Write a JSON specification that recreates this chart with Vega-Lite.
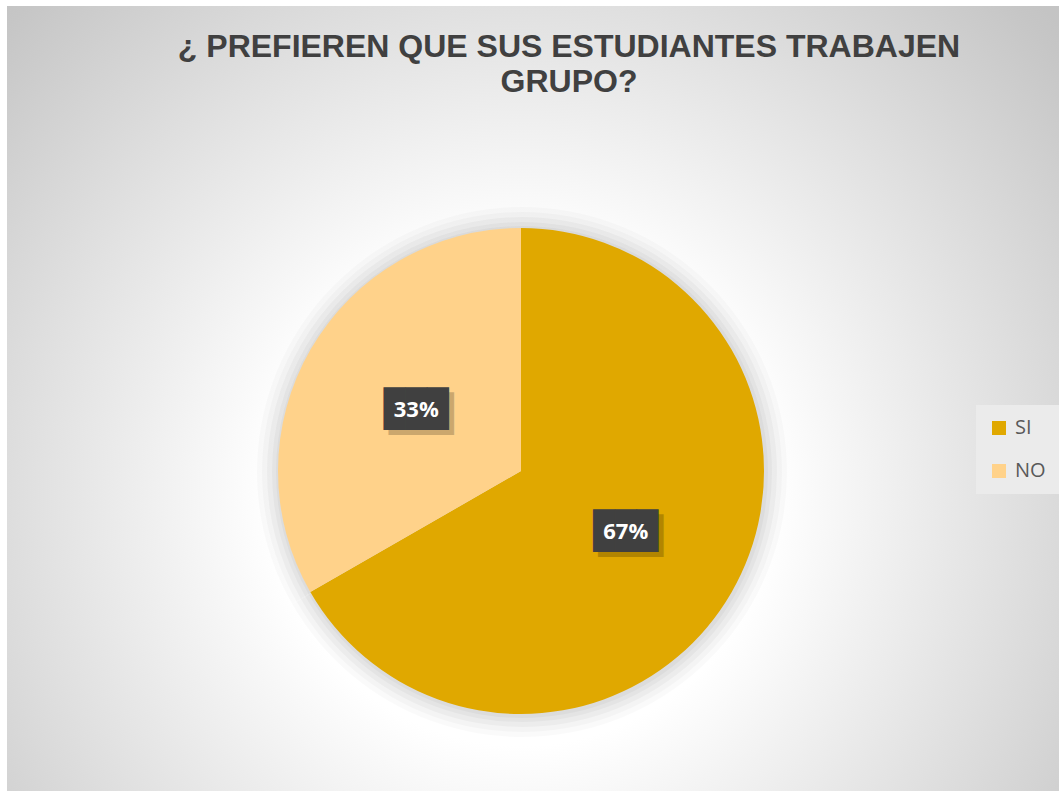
{
  "$schema": "https://vega.github.io/schema/vega-lite/v6.json",
  "width": 1052,
  "height": 785,
  "autosize": {"type": "none"},
  "padding": {"left": 7, "top": 6, "right": 0, "bottom": 0},
  "background": "#ffffff",
  "title": {
    "text": ["¿ PREFIEREN QUE SUS ESTUDIANTES TRABAJEN", "GRUPO?"],
    "orient": "top",
    "anchor": "middle",
    "offset": -93,
    "dx": 36,
    "fontSize": 32,
    "font": "Liberation Sans",
    "fontWeight": "bold",
    "color": "#404040",
    "lineHeight": 35
  },
  "config": {
    "view": {"stroke": "#BFBFBF", "strokeWidth": 1}
  },
  "data": {
    "values": [
      {"respuesta": "SI", "valor": 0.667},
      {"respuesta": "NO", "valor": 0.333}
    ]
  },
  "layer": [
    {
      "data": {"values": [{"fondo": "degradado"}]},
      "mark": {
        "type": "rect",
        "color": {
          "gradient": "radial",
          "x1": 0.4886, "y1": 0.592, "r1": 0,
          "x2": 0.4886, "y2": 0.592, "r2": 0.68,
          "stops": [
            {"offset": 0, "color": "#ffffff"},
            {"offset": 0.35, "color": "#ffffff"},
            {"offset": 0.97, "color": "#c6c6c6"},
            {"offset": 1, "color": "#c4c4c4"}
          ]
        }
      },
      "encoding": {}
    },
    {
      "mark": {"type": "arc", "radius": 265, "x": 515, "y": 466, "color": "#000000", "opacity": 0.02},
      "encoding": {
        "theta": {"field": "valor", "type": "quantitative", "stack": true},
        "order": {"field": "valor", "type": "quantitative", "sort": "descending"}
      }
    },
    {
      "mark": {"type": "arc", "radius": 260, "x": 515, "y": 466, "color": "#000000", "opacity": 0.025},
      "encoding": {
        "theta": {"field": "valor", "type": "quantitative", "stack": true},
        "order": {"field": "valor", "type": "quantitative", "sort": "descending"}
      }
    },
    {
      "mark": {"type": "arc", "radius": 255, "x": 515, "y": 466, "color": "#000000", "opacity": 0.03},
      "encoding": {
        "theta": {"field": "valor", "type": "quantitative", "stack": true},
        "order": {"field": "valor", "type": "quantitative", "sort": "descending"}
      }
    },
    {
      "mark": {"type": "arc", "radius": 250, "x": 515, "y": 466, "color": "#000000", "opacity": 0.03},
      "encoding": {
        "theta": {"field": "valor", "type": "quantitative", "stack": true},
        "order": {"field": "valor", "type": "quantitative", "sort": "descending"}
      }
    },
    {
      "mark": {"type": "arc", "radius": 246, "x": 515, "y": 466, "color": "#000000", "opacity": 0.03},
      "encoding": {
        "theta": {"field": "valor", "type": "quantitative", "stack": true},
        "order": {"field": "valor", "type": "quantitative", "sort": "descending"}
      }
    },
    {
      "mark": {"type": "arc", "radius": 243, "x": 514, "y": 465},
      "encoding": {
        "theta": {"field": "valor", "type": "quantitative", "stack": true},
        "order": {"field": "valor", "type": "quantitative", "sort": "descending"},
        "color": {
          "field": "respuesta",
          "type": "nominal",
          "scale": {"domain": ["SI", "NO"], "range": ["#E0A800", "#FFD28A"]},
          "legend": {
            "orient": "none",
            "legendX": 969,
            "legendY": 399,
            "title": null,
            "symbolType": "square",
            "symbolSize": 196,
            "symbolStrokeWidth": 0,
            "labelFontSize": 20,
            "labelFont": "Open Sans",
            "labelColor": "#595959",
            "fillColor": "#EBEBEB",
            "padding": 13,
            "rowPadding": 23,
            "labelOffset": 6
          }
        }
      }
    },
    {
      "mark": {"type": "text", "text": "███", "font": "DejaVu Sans Mono", "fontSize": 36, "color": "#000000", "opacity": 0.2, "radius": 121, "x": 519, "y": 470, "baseline": "middle", "align": "center"},
      "encoding": {
        "theta": {"field": "valor", "type": "quantitative", "stack": true},
        "order": {"field": "valor", "type": "quantitative", "sort": "descending"}
      }
    },
    {
      "mark": {"type": "text", "text": "███", "font": "DejaVu Sans Mono", "fontSize": 36, "color": "#404040", "radius": 121, "x": 514, "y": 465, "baseline": "middle", "align": "center"},
      "encoding": {
        "theta": {"field": "valor", "type": "quantitative", "stack": true},
        "order": {"field": "valor", "type": "quantitative", "sort": "descending"}
      }
    },
    {
      "mark": {"type": "text", "radius": 121, "x": 514, "y": 465, "font": "Open Sans", "fontSize": 22, "fontWeight": "bold", "color": "#ffffff", "baseline": "middle", "align": "center"},
      "encoding": {
        "theta": {"field": "valor", "type": "quantitative", "stack": true},
        "order": {"field": "valor", "type": "quantitative", "sort": "descending"},
        "text": {"field": "valor", "type": "quantitative", "format": ".0%"}
      }
    }
  ]
}
